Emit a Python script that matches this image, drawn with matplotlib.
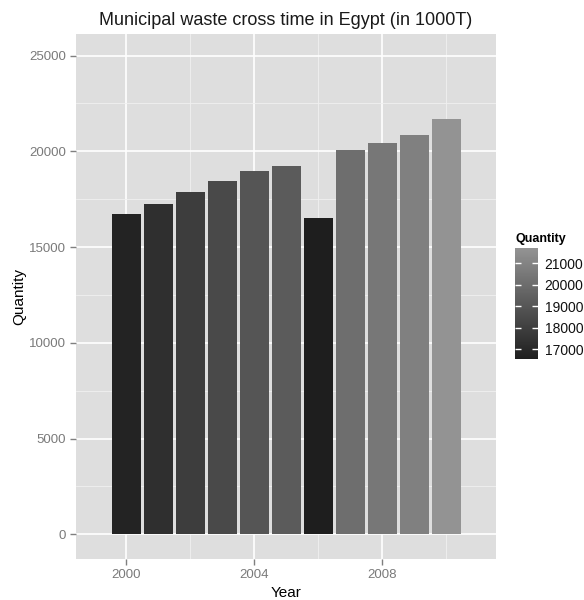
import matplotlib
matplotlib.use("Agg")
import matplotlib.pyplot as plt
import numpy as np
from matplotlib.colors import LinearSegmentedColormap, Normalize
from matplotlib.ticker import MultipleLocator

plt.rcParams['font.family'] = ['Liberation Sans', 'DejaVu Sans']

# data
years = [2000, 2001, 2002, 2003, 2004, 2005, 2006, 2007, 2008, 2009, 2010]
quantity = [16750, 17270, 17900, 18430, 18970, 19250, 16540, 20050, 20450, 20870, 21700]
y_ticks = [0, 5000, 10000, 15000, 20000, 25000]
x_ticks = [2000, 2004, 2008]
cbar_ticks = [17000, 18000, 19000, 20000, 21000]

cmap = LinearSegmentedColormap.from_list("grey_grad", ["#1e1e1e", "#939393"])
norm = Normalize(vmin=min(quantity), vmax=max(quantity))

fig = plt.figure(figsize=(5.84, 6.0), dpi=100)
ax = fig.add_axes([76/584, 41/600, 420/584, 525.3/600])
ax.set_facecolor("#dedede")

ax.bar(years, quantity, width=0.9, color=cmap(norm(np.array(quantity))), zorder=3)

ax.set_xlim(1998.43, 2011.55)
ax.set_ylim(-1290, 26140)
ax.set_xticks(x_ticks)
ax.set_yticks(y_ticks)
ax.xaxis.set_minor_locator(MultipleLocator(2))
ax.yaxis.set_minor_locator(MultipleLocator(2500))
ax.grid(which='major', color='white', linewidth=1.2, zorder=1)
ax.grid(which='minor', color='#f0f0f0', linewidth=0.6, zorder=1)
ax.tick_params(which='minor', length=0)
ax.tick_params(which='major', length=4, width=1, color='#7f7f7f',
               labelcolor='#7a7a7a', labelsize=9.5, pad=3)
for s in ax.spines.values():
    s.set_visible(False)

ax.set_title("Municipal waste cross time in Egypt (in 1000T)", fontsize=13,
             pad=6, color='#1a1a1a')
ax.set_xlabel("Year", fontsize=11, labelpad=4)
ax.set_ylabel("Quantity", fontsize=11, labelpad=2)

# legend colour bar
cax = fig.add_axes([515/584, 240.7/600, 22.7/584, 111/600])
sm = plt.cm.ScalarMappable(norm=norm, cmap=cmap)
cb = fig.colorbar(sm, cax=cax, ticks=cbar_ticks)
cb.outline.set_visible(False)
cax.yaxis.set_ticks_position('both')
cax.tick_params(direction='in', color='white', length=4.5, width=1,
                labelleft=False, labelright=True,
                labelsize=10, labelcolor='#111111', pad=5)
fig.text(515/584, 1 - 239/600, "Quantity", fontsize=9, fontweight='bold',
         va='center', ha='left')

fig.savefig("out.png", dpi=100)
